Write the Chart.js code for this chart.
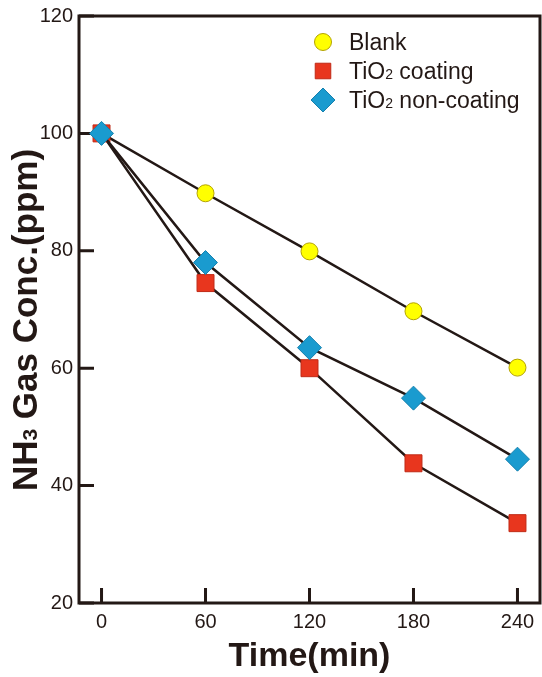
<!DOCTYPE html>
<html lang="en">
<head>
<meta charset="UTF-8">
<title>NH3 Gas Conc.</title>
<script src="https://cdn.jsdelivr.net/npm/chart.js"></script>
<style>
  html, body { margin: 0; padding: 0; background: #fff; }
  #wrap { width: 542px; height: 677px; }
</style>
</head>
<body>
<div id="wrap"><canvas id="chart" width="542" height="677"></canvas></div>
<script>
// values
var times = [0, 60, 120, 180, 240];
var blank = [100, 89.8, 79.9, 69.7, 60.1];
var tio2Coating = [100, 74.5, 60.0, 43.8, 33.6];
var tio2NonCoating = [100, 78.0, 63.5, 54.9, 44.5];
var yTicks = [20, 40, 60, 80, 100, 120];

var ink = '#231815';
var font = '"Liberation Sans", Arial, sans-serif';

function pts(arr) {
    return times.map(function (t, i) { return { x: t, y: arr[i] }; });
}

// frame + inward tick marks, drawn under the markers
var framePlugin = {
    id: 'frame',
    beforeDatasetsDraw: function (chart) {
        var ctx = chart.ctx, a = chart.chartArea;
        var xs = chart.scales.x, ys = chart.scales.y;
        ctx.save();
        ctx.strokeStyle = ink;
        ctx.lineWidth = 3;
        ctx.beginPath();
        xs.ticks.forEach(function (t) {
            var px = xs.getPixelForValue(t.value);
            ctx.moveTo(px, a.bottom);
            ctx.lineTo(px, a.bottom - 15);
        });
        ys.ticks.forEach(function (t) {
            var py = ys.getPixelForValue(t.value);
            ctx.moveTo(a.left, py);
            ctx.lineTo(a.left + 15, py);
        });
        ctx.stroke();
        ctx.strokeRect(a.left, a.top, a.right - a.left, a.bottom - a.top);
        ctx.restore();
    }
};

// draw text pieces; pieces given as [text, isSub]
function drawParts(ctx, parts, x, y, size) {
    parts.forEach(function (p) {
        var s = p[1] ? Math.round(size * 0.6) : size;
        ctx.font = (ctx._bold ? 'bold ' : '') + s + 'px ' + font;
        ctx.fillText(p[0], x, y);
        x += ctx.measureText(p[0]).width;
    });
}
function partsWidth(ctx, parts, size) {
    var w = 0;
    parts.forEach(function (p) {
        var s = p[1] ? Math.round(size * 0.6) : size;
        ctx.font = (ctx._bold ? 'bold ' : '') + s + 'px ' + font;
        w += ctx.measureText(p[0]).width;
    });
    return w;
}

var legendItems = [
    { ds: 0, parts: [['Blank', false]] },
    { ds: 1, parts: [['TiO', false], ['2', true], [' coating', false]] },
    { ds: 2, parts: [['TiO', false], ['2', true], [' non-coating', false]] }
];

var textPlugin = {
    id: 'texts',
    afterDraw: function (chart) {
        var ctx = chart.ctx;
        ctx.save();
        ctx.fillStyle = ink;
        ctx.textBaseline = 'alphabetic';
        ctx.textAlign = 'left';

        // legend
        legendItems.forEach(function (it, i) {
            var ds = chart.data.datasets[it.ds];
            var cy = 42 + i * 29;
            ctx.fillStyle = ds.pointBackgroundColor;
            ctx.strokeStyle = ds.pointBorderColor;
            ctx.lineWidth = 1;
            Chart.helpers.drawPoint(ctx, {
                pointStyle: ds.pointStyle,
                radius: ds.pointStyle === 'rect' ? 11 : ds.pointStyle === 'rectRot' ? 12 : 8.5,
                rotation: 0,
                borderWidth: 1
            }, 323, cy);
            ctx.fillStyle = ink;
            ctx._bold = false;
            drawParts(ctx, it.parts, 349, cy + 8, 23);
        });

        // y axis title with subscript
        var yParts = [['NH', false], ['3', true], [' Gas Conc.(ppm)', false]];
        ctx._bold = true;
        var w = partsWidth(ctx, yParts, 35);
        ctx.translate(37, 320);
        ctx.rotate(-Math.PI / 2);
        drawParts(ctx, yParts, -w / 2, 0, 35);
        ctx._bold = false;
        ctx.restore();
    }
};

new Chart(document.getElementById('chart'), {
    type: 'line',
    data: {
        datasets: [{
            label: 'Blank',
            data: pts(blank),
            borderColor: ink,
            borderWidth: 2.5,
            pointStyle: 'circle',
            pointRadius: 8.5,
            pointBackgroundColor: '#ffff00',
            pointBorderColor: '#b3a200',
            pointBorderWidth: 1,
            order: 2
        }, {
            label: 'TiO2 coating',
            data: pts(tio2Coating),
            borderColor: ink,
            borderWidth: 2.5,
            pointStyle: 'rect',
            pointRadius: 12,
            pointBackgroundColor: '#e8361e',
            pointBorderColor: '#c02a16',
            pointBorderWidth: 1,
            order: 1
        }, {
            label: 'TiO2 non-coating',
            data: pts(tio2NonCoating),
            borderColor: ink,
            borderWidth: 2.5,
            pointStyle: 'rectRot',
            pointRadius: 12,
            pointBackgroundColor: '#1a9bcf',
            pointBorderColor: '#1680ad',
            pointBorderWidth: 1,
            order: 0
        }]
    },
    options: {
        responsive: false,
        animation: false,
        layout: { autoPadding: false, padding: { top: 16, right: 2, left: 0, bottom: 0 } },
        elements: { line: { tension: 0 } },
        plugins: {
            legend: { display: false },
            tooltip: { enabled: false }
        },
        scales: {
            x: {
                type: 'linear',
                min: -13,
                max: 253,
                afterBuildTicks: function (s) { s.ticks = times.map(function (v) { return { value: v }; }); },
                afterFit: function (s) { s.height = 74; s.paddingLeft = 0; s.paddingRight = 0; },
                grid: { display: false, drawTicks: false },
                border: { display: false },
                ticks: { color: ink, font: { family: font, size: 20 }, padding: 7, maxRotation: 0 },
                title: {
                    display: true,
                    text: 'Time(min)',
                    color: ink,
                    font: { family: font, size: 34, weight: 'bold' },
                    padding: { top: 0, bottom: 0 }
                }
            },
            y: {
                min: 20,
                max: 120,
                afterBuildTicks: function (s) { s.ticks = yTicks.map(function (v) { return { value: v }; }); },
                afterFit: function (s) { s.width = 79; s.paddingTop = 0; s.paddingBottom = 0; },
                grid: { display: false, drawTicks: false },
                border: { display: false },
                ticks: { color: ink, font: { family: font, size: 20 }, padding: 6 }
            }
        }
    },
    plugins: [framePlugin, textPlugin]
});
</script>
</body>
</html>
